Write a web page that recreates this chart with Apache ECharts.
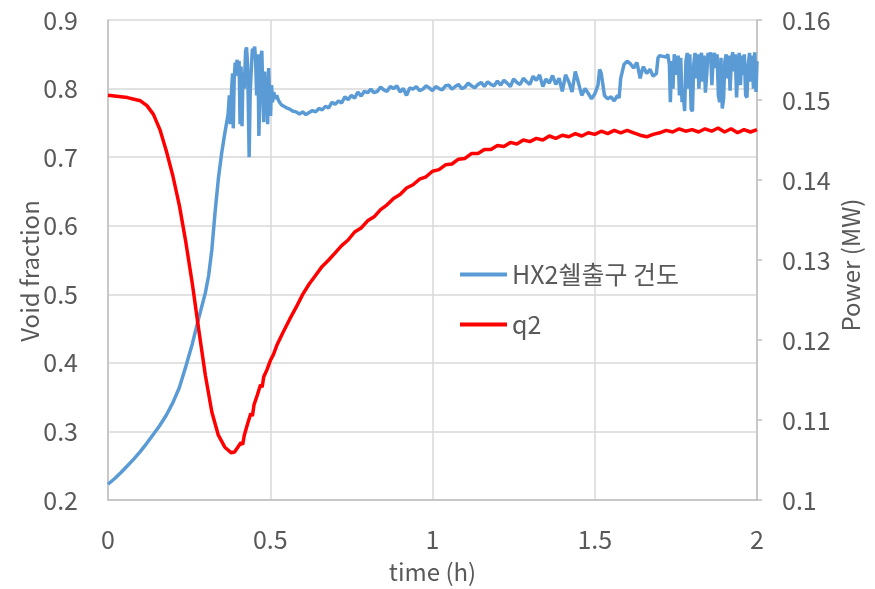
<!DOCTYPE html>
<html>
<head>
<meta charset="utf-8">
<script src="https://cdn.jsdelivr.net/npm/echarts@6/dist/echarts.min.js"></script>
<style>
  html, body { margin: 0; padding: 0; background: #fff; }
  #chart { width: 875px; height: 589px; }
</style>
</head>
<body>
<div id="chart"></div>
<script>
// HX2 shell outlet void fraction (left axis) and heater power q2 (right axis) over time

const seriesNames = ['HX2쉘출구 건도', 'q2'];
const xTicks = [0, 0.5, 1, 1.5, 2];
const voidTicks = [0.2, 0.3, 0.4, 0.5, 0.6, 0.7, 0.8, 0.9];
const powerTicks = [0.1, 0.11, 0.12, 0.13, 0.14, 0.15, 0.16];

// void fraction samples
const voidTime = [
  0, 0.02, 0.04, 0.06, 0.08, 0.10, 0.12, 0.14, 0.16, 0.18, 0.20, 0.22, 0.24, 0.26, 0.28, 0.30, 0.31, 0.32, 0.33, 0.34, 0.35, 0.36,
  0.370, 0.374, 0.377, 0.381, 0.384, 0.386, 0.389, 0.392, 0.395, 0.398, 0.401, 0.404, 0.407, 0.410, 0.413, 0.416, 0.420, 0.424,
  0.427, 0.430, 0.433, 0.435, 0.438, 0.441, 0.445, 0.449, 0.452, 0.455, 0.458, 0.462, 0.465, 0.468, 0.471, 0.474, 0.477, 0.480,
  0.483, 0.486, 0.489, 0.492, 0.495, 0.498, 0.501, 0.504, 0.507, 0.511, 0.515, 0.520, 0.525, 0.530, 0.535,
  0.54, 0.55, 0.56, 0.57, 0.58, 0.59, 0.60, 0.61, 0.62, 0.63, 0.64, 0.65, 0.66, 0.67, 0.68, 0.69, 0.70, 0.71, 0.72, 0.73, 0.74,
  0.75, 0.76, 0.77, 0.78, 0.79, 0.80, 0.81, 0.82, 0.83, 0.84, 0.85, 0.86, 0.87, 0.88, 0.89, 0.90, 0.91, 0.92, 0.93, 0.94, 0.95,
  0.96, 0.97, 0.98, 0.99, 1.00, 1.01, 1.02, 1.03, 1.04, 1.05, 1.06, 1.07, 1.08, 1.09, 1.10, 1.11, 1.12, 1.13, 1.14, 1.15, 1.16,
  1.17, 1.18, 1.19, 1.20, 1.21, 1.22, 1.23, 1.24, 1.25, 1.26, 1.27, 1.28, 1.29, 1.30, 1.31, 1.32, 1.33, 1.34, 1.35, 1.36, 1.37,
  1.38, 1.39, 1.40, 1.41, 1.42, 1.43, 1.44, 1.45, 1.46, 1.47, 1.48, 1.49, 1.50, 1.51, 1.515, 1.52, 1.53, 1.54, 1.55, 1.56, 1.57,
  1.575, 1.58, 1.59, 1.60, 1.61, 1.62, 1.63, 1.64, 1.645, 1.65, 1.66, 1.67, 1.68, 1.69, 1.695, 1.70, 1.71, 1.72, 1.725,
  1.730, 1.733, 1.737, 1.741, 1.745, 1.749, 1.753, 1.757, 1.761, 1.765, 1.769, 1.773, 1.777, 1.781, 1.785, 1.789, 1.793, 1.797,
  1.801, 1.805, 1.809, 1.813, 1.817, 1.821, 1.825, 1.829, 1.833, 1.837, 1.841, 1.845, 1.849, 1.853, 1.857, 1.861, 1.865, 1.869,
  1.873, 1.877, 1.881, 1.885, 1.889, 1.893, 1.897, 1.901, 1.905, 1.909, 1.913, 1.917, 1.921, 1.925, 1.929, 1.933, 1.937, 1.941,
  1.945, 1.949, 1.953, 1.957, 1.961, 1.965, 1.969, 1.973, 1.977, 1.981, 1.985, 1.989, 1.993, 1.997, 2.000
];
const voidFraction = [
  0.223, 0.231, 0.240, 0.250, 0.260, 0.271, 0.283, 0.296, 0.309, 0.324, 0.342, 0.364, 0.395, 0.428, 0.466, 0.502, 0.527, 0.565, 0.620, 0.668, 0.705, 0.735,
  0.762, 0.790, 0.748, 0.800, 0.822, 0.742, 0.815, 0.838, 0.830, 0.842, 0.818, 0.840, 0.748, 0.832, 0.745, 0.823, 0.800, 0.855,
  0.860, 0.835, 0.760, 0.700, 0.790, 0.823, 0.858, 0.855, 0.861, 0.840, 0.790, 0.850, 0.731, 0.790, 0.845, 0.855, 0.800, 0.751,
  0.825, 0.775, 0.810, 0.748, 0.830, 0.790, 0.760, 0.805, 0.780, 0.795, 0.785, 0.790, 0.783, 0.779, 0.776,
  0.774, 0.772, 0.770, 0.767, 0.766, 0.763, 0.766, 0.762, 0.765, 0.768, 0.766, 0.771, 0.769, 0.774, 0.772, 0.780, 0.777, 0.782, 0.779, 0.788, 0.784,
  0.790, 0.786, 0.795, 0.789, 0.796, 0.794, 0.799, 0.794, 0.796, 0.802, 0.798, 0.796, 0.803, 0.800, 0.804, 0.795, 0.800, 0.790, 0.801, 0.799, 0.803,
  0.797, 0.799, 0.804, 0.801, 0.797, 0.803, 0.800, 0.798, 0.804, 0.805, 0.799, 0.803, 0.806, 0.800, 0.802, 0.808, 0.804, 0.801, 0.806, 0.809, 0.803,
  0.810, 0.806, 0.804, 0.811, 0.805, 0.812, 0.808, 0.803, 0.814, 0.809, 0.806, 0.815, 0.810, 0.806, 0.818, 0.812, 0.820, 0.803, 0.814, 0.808, 0.819,
  0.806, 0.815, 0.796, 0.820, 0.810, 0.795, 0.825, 0.808, 0.790, 0.800, 0.793, 0.785, 0.792, 0.805, 0.828, 0.822, 0.790, 0.785, 0.788, 0.782, 0.790,
  0.786, 0.815, 0.835, 0.840, 0.836, 0.830, 0.838, 0.815, 0.825, 0.832, 0.822, 0.828, 0.818, 0.822, 0.845, 0.848, 0.847, 0.846, 0.850,
  0.835, 0.780, 0.840, 0.800, 0.850, 0.852, 0.820, 0.848, 0.790, 0.845, 0.780, 0.790, 0.767, 0.840, 0.852, 0.800, 0.850, 0.770,
  0.767, 0.835, 0.852, 0.815, 0.850, 0.800, 0.845, 0.852, 0.810, 0.848, 0.794, 0.820, 0.852, 0.840, 0.853, 0.805, 0.845, 0.852,
  0.830, 0.850, 0.790, 0.780, 0.845, 0.771, 0.785, 0.840, 0.850, 0.815, 0.848, 0.797, 0.840, 0.853, 0.825, 0.850, 0.787, 0.830,
  0.852, 0.805, 0.848, 0.820, 0.850, 0.790, 0.787, 0.835, 0.852, 0.810, 0.848, 0.800, 0.853, 0.795, 0.840
];

// power samples (MW)
const powerTime = [
  0, 0.02, 0.04, 0.06, 0.08, 0.10, 0.12, 0.14, 0.16, 0.18, 0.20, 0.22, 0.24, 0.26, 0.28, 0.30, 0.32, 0.34, 0.36, 0.38, 0.39,
  0.40, 0.41, 0.415, 0.42, 0.425, 0.43, 0.435, 0.44, 0.445, 0.45, 0.455, 0.46, 0.465, 0.47, 0.475, 0.48, 0.49, 0.50, 0.51, 0.52,
  0.54, 0.56, 0.58, 0.60, 0.62, 0.64, 0.66, 0.68, 0.70, 0.72, 0.74, 0.76, 0.78, 0.80, 0.82, 0.84, 0.86, 0.88, 0.90, 0.92, 0.94,
  0.96, 0.98, 1.00, 1.02, 1.04, 1.06, 1.08, 1.10, 1.12, 1.14, 1.16, 1.18, 1.20, 1.22, 1.24, 1.26, 1.28, 1.30, 1.32, 1.34, 1.36,
  1.38, 1.40, 1.42, 1.44, 1.46, 1.48, 1.50, 1.52, 1.54, 1.56, 1.58, 1.60, 1.62, 1.64, 1.66, 1.68, 1.70, 1.72, 1.74, 1.76, 1.78,
  1.80, 1.82, 1.84, 1.86, 1.88, 1.90, 1.92, 1.94, 1.96, 1.98, 2.00
];
const power = [
  0.1506, 0.1505, 0.1504, 0.1503, 0.1501, 0.1499, 0.1493, 0.1482, 0.1463, 0.1436, 0.1405, 0.1368, 0.1322, 0.1270, 0.1212, 0.1156, 0.1110, 0.1081, 0.1066, 0.1059, 0.1060,
  0.1066, 0.1072, 0.1069, 0.1081, 0.1079, 0.1095, 0.1093, 0.1108, 0.1105, 0.1119, 0.1117, 0.1131, 0.1129, 0.1144, 0.1141, 0.1154, 0.1163, 0.1174, 0.1182, 0.1193,
  0.1210, 0.1226, 0.1241, 0.1257, 0.1270, 0.1281, 0.1292, 0.1300, 0.1309, 0.1318, 0.1325, 0.1335, 0.1340, 0.1349, 0.1354, 0.1363, 0.1369, 0.1377, 0.1382, 0.1390, 0.1394,
  0.1401, 0.1404, 0.1411, 0.1413, 0.1419, 0.1420, 0.1426, 0.1427, 0.1433, 0.1433, 0.1438, 0.1438, 0.1443, 0.1442, 0.1447, 0.1445, 0.1450, 0.1448, 0.1452, 0.1450, 0.1455,
  0.1452, 0.1456, 0.1454, 0.1458, 0.1455, 0.1459, 0.1457, 0.1461, 0.1458, 0.1462, 0.1459, 0.1462, 0.1459, 0.1456, 0.1454, 0.1457, 0.1459, 0.1462, 0.1460, 0.1464, 0.1461,
  0.1463, 0.1460, 0.1464, 0.1461, 0.1465, 0.1460, 0.1464, 0.1459, 0.1463, 0.1460, 0.1463
];

const zip = (xs, ys) => xs.map((x, i) => [x, ys[i]]);

const FONT = "'Noto Sans CJK KR', 'Noto Sans', sans-serif";
const TEXT = '#595959';
const AXIS = '#bfbfbf';
const GRID = '#d9d9d9';

const chart = echarts.init(document.getElementById('chart'), null, { renderer: 'canvas' });

chart.setOption({
  animation: false,
  backgroundColor: '#ffffff',
  textStyle: { fontFamily: FONT, color: TEXT },
  grid: { left: 108, right: 118, top: 20, bottom: 84 },
  legend: {
    orient: 'vertical',
    left: 455,
    top: 257,
    itemGap: 25,
    itemWidth: 47,
    itemHeight: 4,
    icon: 'rect',
    data: seriesNames,
    textStyle: { fontFamily: FONT, fontSize: 25, color: TEXT }
  },
  xAxis: {
    type: 'value',
    min: xTicks[0],
    max: xTicks[xTicks.length - 1],
    interval: 0.5,
    name: 'time (h)',
    nameLocation: 'middle',
    nameGap: 60,
    nameTextStyle: { fontFamily: FONT, fontSize: 24, color: TEXT },
    axisLine: { show: true, lineStyle: { color: AXIS, width: 1.5 } },
    axisTick: { show: false },
    axisLabel: { fontFamily: FONT, fontSize: 25, color: TEXT, margin: 27 },
    splitLine: { show: true, lineStyle: { color: GRID, width: 1.5 } }
  },
  yAxis: [
    {
      type: 'value',
      position: 'left',
      min: voidTicks[0],
      max: voidTicks[voidTicks.length - 1],
      interval: 0.1,
      name: 'Void fraction',
      nameLocation: 'middle',
      nameRotate: 90,
      nameGap: 66,
      nameMoveOverlap: false,
      nameTextStyle: { fontFamily: FONT, fontSize: 24, color: TEXT, padding: [0, 22, 0, 0] },
      axisLine: { show: true, lineStyle: { color: AXIS, width: 1.5 } },
      axisTick: { show: false },
      axisLabel: { fontFamily: FONT, fontSize: 25, color: TEXT, margin: 30, formatter: v => v.toFixed(1) },
      splitLine: { show: true, lineStyle: { color: GRID, width: 1.5 } }
    },
    {
      type: 'value',
      position: 'right',
      min: powerTicks[0],
      max: powerTicks[powerTicks.length - 1],
      interval: 0.01,
      name: 'Power (MW)',
      nameLocation: 'middle',
      nameRotate: 90,
      nameGap: 82,
      nameMoveOverlap: false,
      nameTextStyle: { fontFamily: FONT, fontSize: 24, color: TEXT, padding: [0, 10, 0, 0] },
      axisLine: { show: true, lineStyle: { color: AXIS, width: 1.5 } },
      axisTick: { show: true, length: 5, lineStyle: { color: AXIS, width: 1.5 } },
      axisLabel: { fontFamily: FONT, fontSize: 25, color: TEXT, margin: 25, formatter: v => String(parseFloat(v.toFixed(2))) },
      splitLine: { show: false }
    }
  ],
  series: [
    {
      name: seriesNames[0],
      type: 'line',
      yAxisIndex: 0,
      showSymbol: false,
      symbol: 'none',
      color: '#5b9bd5',
      lineStyle: { color: '#5b9bd5', width: 3.5 },
      data: zip(voidTime, voidFraction)
    },
    {
      name: seriesNames[1],
      type: 'line',
      yAxisIndex: 1,
      showSymbol: false,
      symbol: 'none',
      color: '#ff0000',
      lineStyle: { color: '#ff0000', width: 3.5 },
      data: zip(powerTime, power)
    }
  ]
});
</script>
</body>
</html>
